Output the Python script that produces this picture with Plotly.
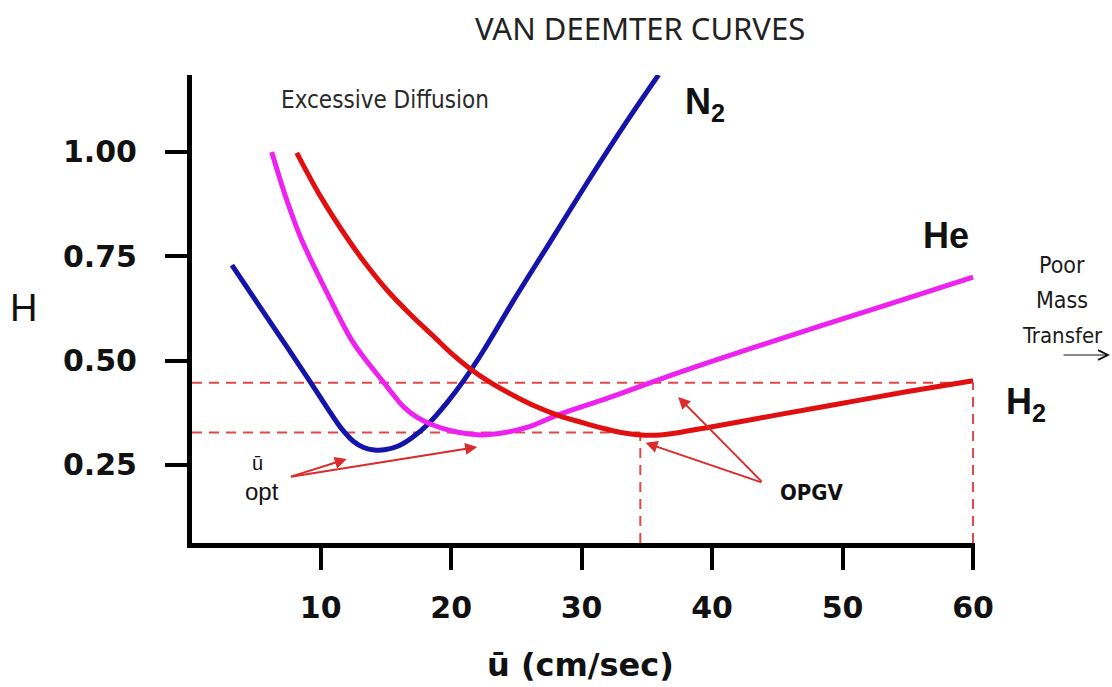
import plotly.graph_objects as go

# ---------------- data ----------------
n2_u = [3.2, 5, 7.2, 9.1, 10.5, 11.6, 12.5, 13.3, 14.1, 15.0, 16.0, 17.0, 18.3, 19.7, 21, 22.5, 24.8, 27.5, 30.7, 33.5, 35.9]
n2_h = [0.729, 0.645, 0.543, 0.454, 0.387, 0.337, 0.307, 0.292, 0.286, 0.287, 0.296, 0.315, 0.35, 0.40, 0.454, 0.525, 0.645, 0.78, 0.94, 1.075, 1.185]

he_u = [6.25, 7.4, 8.55, 10.5, 12.4, 13.6, 14.7, 15.6, 16.4, 17.4, 18.5, 20, 22.3, 24, 26, 28.2, 32, 37.6, 45, 50, 55, 60]
he_h = [1.0, 0.885, 0.789, 0.662, 0.548, 0.496, 0.453, 0.417, 0.388, 0.364, 0.347, 0.332, 0.322, 0.327, 0.342, 0.37, 0.41, 0.473, 0.55, 0.60, 0.65, 0.70]

h2_u = [8.17, 10, 12.2, 13.7, 15.2, 17, 18.7, 20, 21.4, 23, 25, 26.5, 28.2, 30, 31.5, 33, 34.5, 36, 37.5, 39.9, 45, 50, 55, 60]
h2_h = [0.998, 0.893, 0.786, 0.722, 0.665, 0.607, 0.557, 0.518, 0.482, 0.448, 0.413, 0.39, 0.369, 0.352, 0.339, 0.328, 0.322, 0.322, 0.328, 0.341, 0.37, 0.398, 0.426, 0.452]

# optimum (u_opt, H_min) and practical gas velocity points used for dashed guides
opgv_u = [34.5, 60]
opgv_h = [0.328, 0.447]

x_ticks = [10, 20, 30, 40, 50, 60]
y_ticks = [0.25, 0.50, 0.75, 1.00]
y_tick_labels = ["0.25", "0.50", "0.75", "1.00"]

X_RANGE = [0.14, 60.15]
Y_RANGE = [0.063, 1.1845]

# ---------------- layout geometry ----------------
W, H = 1112, 687
L, R, T, B = 192, 137, 75, 144
PW, PH = W - L - R, H - T - B


def P(px, py):
    return (px - L) / PW, (H - B - py) / PH


fig = go.Figure()

DASH_COL = "#e04848"
dash_style = dict(color=DASH_COL, width=2, dash="10px,7px")

# horizontal and vertical guides
for u, h in zip(opgv_u, opgv_h):
    fig.add_trace(go.Scatter(x=[X_RANGE[0], u], y=[h, h], mode="lines",
                             line=dash_style, hoverinfo="skip", showlegend=False))
    fig.add_trace(go.Scatter(x=[u, u], y=[Y_RANGE[0], h], mode="lines",
                             line=dash_style, hoverinfo="skip", showlegend=False))

fig.add_trace(go.Scatter(x=n2_u, y=n2_h, mode="lines", name="N2",
                         line=dict(color="#1414aa", width=5, shape="spline", smoothing=1.0),
                         showlegend=False))
fig.add_trace(go.Scatter(x=he_u, y=he_h, mode="lines", name="He",
                         line=dict(color="#ee22ee", width=5, shape="spline", smoothing=1.0),
                         showlegend=False))
fig.add_trace(go.Scatter(x=h2_u, y=h2_h, mode="lines", name="H2",
                         line=dict(color="#e01010", width=5, shape="spline", smoothing=1.0),
                         showlegend=False))

ann = []


def text(px, py, t, size, family="Liberation Sans, Arial, sans-serif", color="#111",
         xanchor="center", weight="normal"):
    x, y = P(px, py)
    ann.append(dict(x=x, y=y, xref="paper", yref="paper", text=t, showarrow=False,
                    xanchor=xanchor, yanchor="middle",
                    font=dict(size=size, family=family, color=color, weight=weight)))


text(640, 28, "VAN DEEMTER CURVES", 31, family="Noto Sans, sans-serif", color="#222")
text(385, 100, "Excessive Diffusion", 24, family="DejaVu Sans Condensed, sans-serif", color="#2a2a2a")
text(683, 104, "N<sub>2</sub>", 36, xanchor="left", weight="bold")
text(946, 235, "He", 36, weight="bold")
text(1004, 404, "H<sub>2</sub>", 36, xanchor="left", weight="bold")
text(1062, 265, "Poor", 23, family="DejaVu Sans Condensed, sans-serif", color="#1a1a1a")
text(1062, 300, "Mass", 23, family="DejaVu Sans Condensed, sans-serif", color="#1a1a1a")
text(1062, 335, "Transfer", 22, family="DejaVu Sans Condensed, sans-serif", color="#1a1a1a")
text(23, 308, "H", 38)
text(580, 665, "ū (cm/sec)", 32, family="DejaVu Sans, sans-serif", weight="bold")
text(257, 463, "ū", 20)
text(262, 491, "opt", 24)
text(812, 492, "OPGV", 22, family="DejaVu Sans Condensed, sans-serif", weight="bold")

# mass-transfer arrow
ax0, ay0 = P(1110, 355)
ann.append(dict(x=ax0, y=ay0, xref="paper", yref="paper", text="", showarrow=True,
                ax=-48, ay=0, arrowhead=5, arrowsize=1.6, arrowwidth=1.2, arrowcolor="#111"))

ARROW_COL = "#dd2a2a"
# u_opt arrows (tail near label)
for hx, hy in [(12.0, 0.264), (22.0, 0.293)]:
    ann.append(dict(x=hx, y=hy, xref="x", yref="y", axref="x", ayref="y",
                    ax=7.6, ay=0.221, text="", showarrow=True,
                    arrowhead=2, arrowsize=1.2, arrowwidth=2, arrowcolor=ARROW_COL))
# OPGV arrows
for hx, hy in [(34.9, 0.303), (37.4, 0.413)]:
    ann.append(dict(x=hx, y=hy, xref="x", yref="y", axref="x", ayref="y",
                    ax=43.9, ay=0.207, text="", showarrow=True,
                    arrowhead=2, arrowsize=1.2, arrowwidth=2, arrowcolor=ARROW_COL))

tickfont = dict(family="DejaVu Sans, sans-serif", size=30, color="#111", weight="bold")

fig.update_layout(
    width=W, height=H,
    margin=dict(l=L, r=R, t=T, b=B, pad=0),
    paper_bgcolor="white", plot_bgcolor="white",
    annotations=ann,
    xaxis=dict(range=X_RANGE, tickvals=x_ticks, ticktext=[str(v) for v in x_ticks],
               showgrid=False, zeroline=False, showline=True, linecolor="black", linewidth=5,
               ticks="outside", ticklen=22, tickwidth=4, tickcolor="black",
               tickfont=tickfont, ticklabelstandoff=12),
    yaxis=dict(range=Y_RANGE, tickvals=y_ticks, ticktext=y_tick_labels,
               showgrid=False, zeroline=False, showline=True, linecolor="black", linewidth=5,
               ticks="outside", ticklen=22, tickwidth=4, tickcolor="black",
               tickfont=tickfont, ticklabelstandoff=22),
)

fig.write_html("out.html")
